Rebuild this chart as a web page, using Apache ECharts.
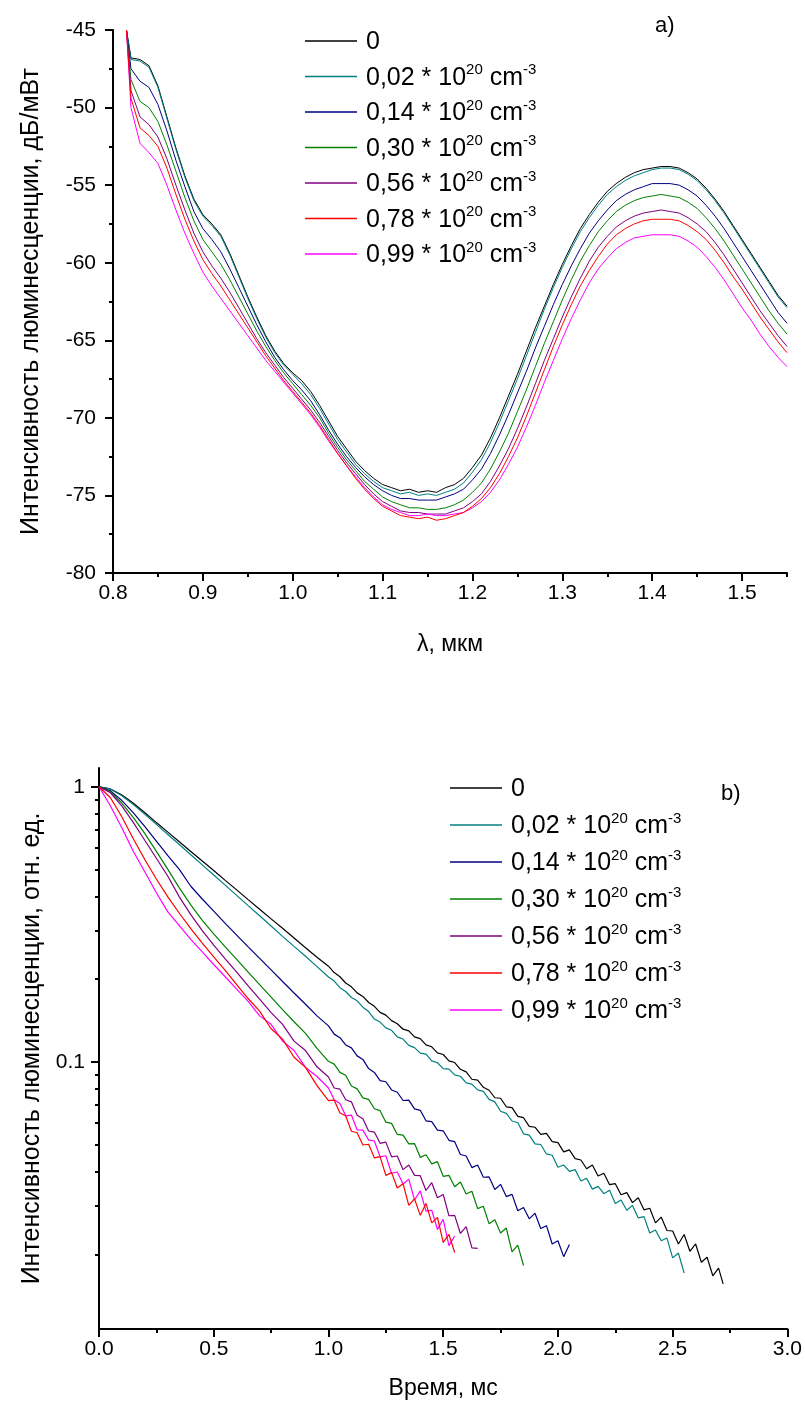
<!DOCTYPE html>
<html>
<head>
<meta charset="utf-8">
<script src="https://cdn.jsdelivr.net/npm/echarts@6/dist/echarts.min.js"></script>
<style>
html,body{margin:0;padding:0;background:#fff;}
#chart{width:805px;height:1420px;}
</style>
</head>
<body>
<div id="chart"></div>
<script>
// ---------- shared legend ----------
var concentrations = ['0', '0,02', '0,14', '0,30', '0,56', '0,78', '0,99'];
var seriesColors = ['#000000', '#008080', '#000080', '#008000', '#800080', '#ff0000', '#ff00ff'];

// ---------- chart a: spectra ----------
var lambdaTicks = [0.8, 0.9, 1.0, 1.1, 1.2, 1.3, 1.4, 1.5];
var intensityTicks = [-80, -75, -70, -65, -60, -55, -50, -45];
var lambda = [0.815, 0.82, 0.83, 0.84, 0.85, 0.86, 0.87, 0.88, 0.89, 0.90,
  0.91, 0.92, 0.93, 0.94, 0.95, 0.96, 0.97, 0.98, 0.99, 1.00,
  1.01, 1.02, 1.03, 1.04, 1.05, 1.06, 1.07, 1.08, 1.09, 1.10,
  1.11, 1.12, 1.13, 1.14, 1.15, 1.16, 1.17, 1.18, 1.19, 1.20,
  1.21, 1.22, 1.23, 1.24, 1.25, 1.26, 1.27, 1.28, 1.29, 1.30,
  1.31, 1.32, 1.33, 1.34, 1.35, 1.36, 1.37, 1.38, 1.39, 1.40,
  1.41, 1.42, 1.43, 1.44, 1.45, 1.46, 1.47, 1.48, 1.49, 1.50,
  1.51, 1.52, 1.53, 1.54, 1.55];
var spec0 = [-45.0, -46.8, -46.9, -47.3, -48.6, -50.6, -52.6, -54.4, -55.9, -56.9,
  -57.5, -58.2, -59.4, -60.8, -62.2, -63.5, -64.7, -65.7, -66.5, -67.1,
  -67.6, -68.3, -69.2, -70.2, -71.2, -72.0, -72.8, -73.4, -73.9, -74.3,
  -74.5, -74.7, -74.6, -74.8, -74.7, -74.8, -74.5, -74.3, -73.9, -73.2,
  -72.4, -71.3, -70.0, -68.6, -67.2, -65.7, -64.2, -62.8, -61.4, -60.1,
  -58.9, -57.8, -56.9, -56.1, -55.4, -54.9, -54.5, -54.2, -54.0, -53.9,
  -53.8, -53.8, -53.9, -54.2, -54.6, -55.2, -55.9, -56.7, -57.6, -58.5,
  -59.4, -60.3, -61.2, -62.1, -62.8];
var spec002 = [-45.0, -46.9, -47.0, -47.4, -48.7, -50.7, -52.7, -54.5, -56.0, -57.0,
  -57.6, -58.3, -59.5, -60.9, -62.3, -63.6, -64.8, -65.8, -66.6, -67.2,
  -67.8, -68.5, -69.4, -70.4, -71.4, -72.2, -73.0, -73.6, -74.1, -74.5,
  -74.7, -74.9, -74.8, -75.0, -74.9, -75.0, -74.8, -74.6, -74.2, -73.5,
  -72.7, -71.6, -70.3, -68.9, -67.5, -66.0, -64.5, -63.0, -61.6, -60.3,
  -59.1, -58.0, -57.1, -56.3, -55.6, -55.1, -54.7, -54.4, -54.2, -54.0,
  -53.9, -53.9, -54.0, -54.3, -54.7, -55.3, -56.0, -56.8, -57.7, -58.6,
  -59.5, -60.4, -61.3, -62.2, -62.9];
var spec014 = [-45.0, -47.5, -48.3, -48.7, -49.8, -51.5, -53.4, -55.1, -56.7, -57.8,
  -58.5, -59.3, -60.4, -61.6, -62.8, -64.0, -65.1, -66.1, -66.9, -67.6,
  -68.2, -68.9, -69.8, -70.8, -71.7, -72.5, -73.2, -73.8, -74.3, -74.7,
  -75.0, -75.2, -75.2, -75.3, -75.3, -75.3, -75.1, -74.9, -74.6, -74.0,
  -73.3, -72.3, -71.1, -69.8, -68.4, -67.0, -65.5, -64.1, -62.7, -61.4,
  -60.2, -59.1, -58.1, -57.3, -56.6, -56.0, -55.6, -55.3, -55.1, -54.9,
  -54.9, -54.9, -55.0, -55.3, -55.7, -56.3, -57.0, -57.8, -58.7, -59.6,
  -60.5, -61.4, -62.3, -63.2, -63.9];
var spec030 = [-45.0, -48.2, -49.6, -50.0, -50.9, -52.4, -54.1, -55.8, -57.3, -58.5,
  -59.3, -60.1, -61.1, -62.2, -63.3, -64.4, -65.4, -66.3, -67.1, -67.8,
  -68.5, -69.2, -70.0, -71.0, -71.9, -72.7, -73.4, -74.1, -74.6, -75.1,
  -75.4, -75.6, -75.8, -75.8, -75.9, -75.9, -75.8, -75.6, -75.3, -74.8,
  -74.2, -73.3, -72.2, -71.0, -69.6, -68.2, -66.7, -65.2, -63.8, -62.4,
  -61.1, -59.9, -58.9, -58.0, -57.3, -56.7, -56.3, -56.0, -55.8, -55.7,
  -55.6, -55.7, -55.8, -56.1, -56.5, -57.1, -57.8, -58.6, -59.5, -60.4,
  -61.3, -62.2, -63.1, -63.9, -64.6];
var spec056 = [-45.0, -48.9, -50.6, -51.1, -51.9, -53.3, -55.0, -56.6, -58.1, -59.3,
  -60.2, -61.0, -61.9, -62.9, -63.9, -64.9, -65.8, -66.6, -67.4, -68.1,
  -68.8, -69.5, -70.3, -71.2, -72.1, -72.9, -73.6, -74.3, -74.9, -75.4,
  -75.7, -76.0, -76.1, -76.1, -76.2, -76.2, -76.2, -76.0, -75.8, -75.4,
  -74.9, -74.1, -73.1, -72.0, -70.7, -69.3, -67.8, -66.3, -64.9, -63.5,
  -62.2, -61.0, -59.9, -59.0, -58.3, -57.7, -57.3, -57.0, -56.8, -56.7,
  -56.6, -56.7, -56.8, -57.1, -57.5, -58.0, -58.7, -59.5, -60.4, -61.3,
  -62.2, -63.1, -63.9, -64.7, -65.4];
var spec078 = [-45.0, -49.4, -51.3, -51.8, -52.5, -53.9, -55.6, -57.2, -58.6, -59.8,
  -60.7, -61.5, -62.4, -63.3, -64.2, -65.1, -66.0, -66.8, -67.6, -68.3,
  -69.0, -69.7, -70.5, -71.4, -72.3, -73.1, -73.9, -74.6, -75.2, -75.7,
  -76.0, -76.3, -76.4, -76.5, -76.4, -76.6, -76.5, -76.3, -76.1, -75.7,
  -75.2, -74.5, -73.6, -72.5, -71.3, -69.9, -68.4, -66.9, -65.4, -64.0,
  -62.7, -61.5, -60.5, -59.6, -58.8, -58.2, -57.8, -57.5, -57.3, -57.2,
  -57.2, -57.2, -57.3, -57.6, -58.0, -58.5, -59.2, -60.0, -60.9, -61.7,
  -62.6, -63.5, -64.3, -65.1, -65.8];
var spec099 = [-45.0, -50.0, -52.3, -52.9, -53.6, -55.0, -56.6, -58.1, -59.4, -60.6,
  -61.5, -62.3, -63.1, -63.9, -64.7, -65.5, -66.3, -67.0, -67.7, -68.4,
  -69.1, -69.8, -70.6, -71.5, -72.3, -73.1, -73.8, -74.5, -75.1, -75.6,
  -75.9, -76.1, -76.3, -76.3, -76.2, -76.3, -76.3, -76.2, -76.1, -75.8,
  -75.4, -74.8, -74.0, -73.0, -71.9, -70.6, -69.2, -67.7, -66.3, -64.9,
  -63.6, -62.4, -61.3, -60.4, -59.7, -59.1, -58.7, -58.4, -58.3, -58.2,
  -58.2, -58.2, -58.3, -58.6, -59.0, -59.6, -60.3, -61.1, -62.0, -62.9,
  -63.7, -64.6, -65.4, -66.1, -66.7];

// ---------- chart b: decay ----------
var timeTicks = [0, 0.5, 1.0, 1.5, 2.0, 2.5, 3.0];
var decayMajorTicks = [0.1, 1];
var decayMinorTicks = [0.02, 0.03, 0.04, 0.05, 0.06, 0.07, 0.08, 0.09, 0.2, 0.3, 0.4, 0.5, 0.6, 0.7, 0.8, 0.9];
var timeMs = [0, 0.05, 0.10, 0.15, 0.20, 0.25, 0.30, 0.35, 0.40, 0.45,
  0.50, 0.55, 0.60, 0.65, 0.70, 0.75, 0.80, 0.85, 0.90, 0.95,
  1.000, 1.025, 1.050, 1.075, 1.100, 1.125, 1.150, 1.175, 1.200, 1.225,
  1.250, 1.275, 1.300, 1.325, 1.350, 1.375, 1.400, 1.425, 1.450, 1.475,
  1.500, 1.525, 1.550, 1.575, 1.600, 1.625, 1.650, 1.675, 1.700, 1.725,
  1.750, 1.775, 1.800, 1.825, 1.850, 1.875, 1.900, 1.925, 1.950, 1.975,
  2.000, 2.025, 2.050, 2.075, 2.100, 2.125, 2.150, 2.175, 2.200, 2.225,
  2.250, 2.275, 2.300, 2.325, 2.350, 2.375, 2.400, 2.425, 2.450, 2.475,
  2.500, 2.525, 2.550, 2.575, 2.600, 2.625, 2.650, 2.675, 2.700, 2.720];
var decay0 = [1, 0.982, 0.933, 0.871, 0.804, 0.741, 0.684, 0.631, 0.582, 0.537,
  0.496, 0.457, 0.422, 0.389, 0.359, 0.331, 0.306, 0.282, 0.260, 0.240,
  0.2228, 0.2112, 0.2040, 0.1936, 0.1875, 0.1782, 0.1730, 0.1644, 0.1592, 0.1514,
  0.1479, 0.1413, 0.1377, 0.1315, 0.1297, 0.1233, 0.1216, 0.1153, 0.1135, 0.1079,
  0.1064, 0.1009, 0.0995, 0.0940, 0.0920, 0.0865, 0.0859, 0.0809, 0.0789, 0.0741,
  0.0738, 0.0687, 0.0682, 0.0634, 0.0627, 0.0583, 0.0579, 0.0545, 0.0550, 0.0513,
  0.0509, 0.0471, 0.0479, 0.0445, 0.0440, 0.0409, 0.0422, 0.0385, 0.0394, 0.0358,
  0.0361, 0.0329, 0.0335, 0.0308, 0.0321, 0.0290, 0.0294, 0.0260, 0.0273, 0.0244,
  0.0243, 0.0218, 0.0236, 0.0205, 0.0218, 0.0187, 0.0195, 0.0167, 0.0178, 0.0156];
var decay002 = [1, 0.980, 0.927, 0.861, 0.794, 0.730, 0.671, 0.617, 0.566, 0.520,
  0.478, 0.439, 0.403, 0.370, 0.340, 0.312, 0.286, 0.263, 0.242, 0.222,
  0.2035, 0.1968, 0.1862, 0.1803, 0.1714, 0.1667, 0.1581, 0.1524, 0.1432, 0.1396,
  0.1330, 0.1303, 0.1233, 0.1211, 0.1148, 0.1127, 0.1076, 0.1067, 0.1009, 0.0993,
  0.0946, 0.0942, 0.0897, 0.0887, 0.0839, 0.0830, 0.0791, 0.0782, 0.0731, 0.0716,
  0.0662, 0.0650, 0.0610, 0.0601, 0.0548, 0.0542, 0.0504, 0.0501, 0.0463, 0.0458,
  0.0414, 0.0422, 0.0400, 0.0406, 0.0369, 0.0378, 0.0345, 0.0353, 0.0332, 0.0342,
  0.0306, 0.0315, 0.0289, 0.0301, 0.0271, 0.0274, 0.0239, 0.0245, 0.0224, 0.0229,
  0.0194, 0.0202, 0.0171];
var decay014 = [1, 0.966, 0.891, 0.804, 0.716, 0.634, 0.562, 0.501, 0.435, 0.391,
  0.353, 0.319, 0.289, 0.262, 0.238, 0.216, 0.196, 0.178, 0.162, 0.147,
  0.1352, 0.1262, 0.1225, 0.1153, 0.1125, 0.1052, 0.1021, 0.0946, 0.0916, 0.0855,
  0.0847, 0.0791, 0.0776, 0.0724, 0.0726, 0.0675, 0.0667, 0.0611, 0.0607, 0.0565,
  0.0562, 0.0519, 0.0513, 0.0461, 0.0455, 0.0413, 0.0422, 0.0381, 0.0382, 0.0344,
  0.0359, 0.0324, 0.0330, 0.0288, 0.0296, 0.0269, 0.0282, 0.0248, 0.0254, 0.0218,
  0.0224, 0.0196, 0.0217];
var decay030 = [1, 0.959, 0.871, 0.773, 0.676, 0.582, 0.501, 0.429, 0.372, 0.327,
  0.292, 0.262, 0.236, 0.212, 0.191, 0.172, 0.155, 0.140, 0.127, 0.112,
  0.1005, 0.0982, 0.0916, 0.0895, 0.0817, 0.0798, 0.0740, 0.0731, 0.0676, 0.0665,
  0.0604, 0.0598, 0.0545, 0.0542, 0.0504, 0.0505, 0.0450, 0.0460, 0.0426, 0.0434,
  0.0384, 0.0387, 0.0352, 0.0366, 0.0331, 0.0339, 0.0293, 0.0299, 0.0258, 0.0267,
  0.0239, 0.0249, 0.0204, 0.0216, 0.0182];
var decay056 = [1, 0.951, 0.851, 0.741, 0.638, 0.550, 0.473, 0.398, 0.343, 0.300,
  0.266, 0.237, 0.212, 0.189, 0.169, 0.151, 0.137, 0.119, 0.110, 0.0960,
  0.0881, 0.0804, 0.0796, 0.0729, 0.0716, 0.0640, 0.0621, 0.0561, 0.0556, 0.0506,
  0.0511, 0.0452, 0.0455, 0.0406, 0.0422, 0.0387, 0.0386, 0.0341, 0.0364, 0.0321,
  0.0330, 0.0276, 0.0277, 0.0238, 0.0252, 0.0211, 0.0210];
var decay078 = [1, 0.912, 0.776, 0.646, 0.543, 0.462, 0.398, 0.347, 0.305, 0.270,
  0.241, 0.215, 0.191, 0.170, 0.153, 0.132, 0.121, 0.104, 0.0955, 0.0820,
  0.0723, 0.0726, 0.0652, 0.0637, 0.0560, 0.0553, 0.0499, 0.0502, 0.0448, 0.0453,
  0.0387, 0.0396, 0.0348, 0.0361, 0.0301, 0.0318, 0.0277, 0.0306, 0.0260, 0.0272,
  0.0221, 0.0236, 0.0203];
var decay099 = [1, 0.851, 0.708, 0.582, 0.490, 0.412, 0.351, 0.313, 0.279, 0.251,
  0.226, 0.204, 0.184, 0.166, 0.147, 0.137, 0.119, 0.110, 0.0955, 0.0885,
  0.0804, 0.0728, 0.0706, 0.0637, 0.0641, 0.0566, 0.0565, 0.0520, 0.0516, 0.0452,
  0.0456, 0.0394, 0.0398, 0.0360, 0.0375, 0.0315, 0.0340, 0.0287, 0.0289, 0.0246,
  0.0268, 0.0215, 0.0233];

var specSets = [spec0, spec002, spec014, spec030, spec056, spec078, spec099];
var decaySets = [decay0, decay002, decay014, decay030, decay056, decay078, decay099];

var FONT = 'Liberation Sans, Arial, sans-serif';

function legendFormatter(name) {
  if (name === '0') return '{m|0}';
  return '{m|' + name + ' * 10}{s|20}{m| cm}{s|-3}';
}
function makeRich(lh) {
  return {
    m: { fontSize: 25, fontFamily: FONT, color: '#000', lineHeight: lh, verticalAlign: 'bottom' },
    s: { fontSize: 15, fontFamily: FONT, color: '#000', lineHeight: lh, verticalAlign: 'top' }
  };
}

function makeLegend(left, top, lh, gap) {
  return {
    orient: 'vertical',
    left: left,
    top: top,
    itemWidth: 52,
    itemHeight: 1.6,
    itemGap: gap,
    icon: 'rect',
    data: concentrations,
    selectedMode: false,
    formatter: legendFormatter,
    textStyle: { fontFamily: FONT, fontSize: 25, color: '#000', padding: [0, 0, 0, 4], rich: makeRich(lh) }
  };
}

var axisLineStyle = { show: true, lineStyle: { color: '#000', width: 2 } };

var series = [];
specSets.forEach(function (arr, k) {
  series.push({
    name: concentrations[k],
    type: 'line',
    xAxisIndex: 0,
    yAxisIndex: 0,
    showSymbol: false,
    symbol: 'none',
    z: k === 5 ? 4 : 3,
    lineStyle: { width: 1, color: seriesColors[k] },
    itemStyle: { color: seriesColors[k] },
    data: lambda.map(function (x, i) { return [x, arr[i]]; })
  });
});
decaySets.forEach(function (arr, k) {
  series.push({
    name: concentrations[k],
    type: 'line',
    xAxisIndex: 2,
    yAxisIndex: 1,
    showSymbol: false,
    symbol: 'none',
    z: k === 5 ? 4 : 3,
    lineStyle: { width: 1.2, color: seriesColors[k] },
    itemStyle: { color: seriesColors[k] },
    data: arr.map(function (v, i) { return [timeMs[i], v]; })
  });
});

var option = {
  animation: false,
  backgroundColor: '#ffffff',
  title: [
    { text: 'a)', left: 650, top: 10, textStyle: { fontFamily: FONT, fontSize: 22, fontWeight: 'normal', color: '#000' } },
    { text: 'b)', left: 716, top: 778, textStyle: { fontFamily: FONT, fontSize: 22, fontWeight: 'normal', color: '#000' } }
  ],
  legend: [makeLegend(300, 25, 28, 7.5), makeLegend(445, 772, 28, 9)],
  grid: [
    { left: 113, top: 30, width: 674, height: 543 },
    { left: 99, top: 768, width: 690, height: 561 }
  ],
  xAxis: [
    {
      type: 'value', gridIndex: 0, min: 0.8, max: 1.55,
      name: 'λ, мкм', nameLocation: 'middle', nameGap: 60,
      nameTextStyle: { fontFamily: FONT, fontSize: 23, color: '#000' },
      axisLine: axisLineStyle,
      axisTick: { show: true, length: 8, lineStyle: { color: '#000', width: 2 }, customValues: lambdaTicks },
      axisLabel: { show: true, margin: 10, fontFamily: FONT, fontSize: 21, color: '#000', customValues: lambdaTicks,
        formatter: function (v) { return v.toFixed(1); } },
      splitLine: { show: false }
    },
    {
      type: 'value', gridIndex: 0, min: 0.8, max: 1.55, interval: 0.05, position: 'bottom',
      axisLine: { show: false },
      axisTick: { show: true, length: 4, lineStyle: { color: '#000', width: 2 } },
      axisLabel: { show: false },
      splitLine: { show: false }
    },
    {
      type: 'value', gridIndex: 1, min: 0, max: 3, interval: 0.5,
      name: 'Время, мс', nameLocation: 'middle', nameGap: 48,
      nameTextStyle: { fontFamily: FONT, fontSize: 23, color: '#000' },
      axisLine: axisLineStyle,
      axisTick: { show: true, length: 8, lineStyle: { color: '#000', width: 2 } },
      minorTick: { show: true, splitNumber: 2, length: 4, lineStyle: { color: '#000', width: 2 } },
      axisLabel: { margin: 10, fontFamily: FONT, fontSize: 21, color: '#000',
        formatter: function (v) { return v.toFixed(1); } },
      splitLine: { show: false }
    }
  ],
  yAxis: [
    {
      type: 'value', gridIndex: 0, min: -80, max: -45, interval: 5,
      name: 'Интенсивность люминесценции, дБ/мВт', nameLocation: 'middle', nameGap: 69,
      nameTextStyle: { fontFamily: FONT, fontSize: 25, color: '#000' },
      axisLine: axisLineStyle,
      axisTick: { show: true, length: 8, lineStyle: { color: '#000', width: 2 } },
      minorTick: { show: true, splitNumber: 2, length: 4, lineStyle: { color: '#000', width: 2 } },
      axisLabel: { margin: 17, fontFamily: FONT, fontSize: 21, color: '#000' },
      splitLine: { show: false }
    },
    {
      type: 'log', logBase: 10, gridIndex: 1, min: 0.0107, max: 1.17,
      name: 'Интенсивность люминесценции, отн. ед.', nameLocation: 'middle', nameGap: 54,
      nameTextStyle: { fontFamily: FONT, fontSize: 25, color: '#000' },
      axisLine: axisLineStyle,
      axisTick: { show: true, length: 8, lineStyle: { color: '#000', width: 2 }, customValues: decayMajorTicks },
      axisLabel: { margin: 14, fontFamily: FONT, fontSize: 21, color: '#000', customValues: decayMajorTicks,
        formatter: function (v) { return String(v); } },
      splitLine: { show: false }
    },
    {
      type: 'log', logBase: 10, gridIndex: 1, min: 0.0107, max: 1.17, position: 'left',
      axisLine: { show: false },
      axisTick: { show: true, length: 4, lineStyle: { color: '#000', width: 2 }, customValues: decayMinorTicks },
      axisLabel: { show: false },
      splitLine: { show: false }
    }
  ],
  series: series
};

var chart = echarts.init(document.getElementById('chart'), null, { renderer: 'canvas' });
chart.setOption(option);
</script>
</body>
</html>
